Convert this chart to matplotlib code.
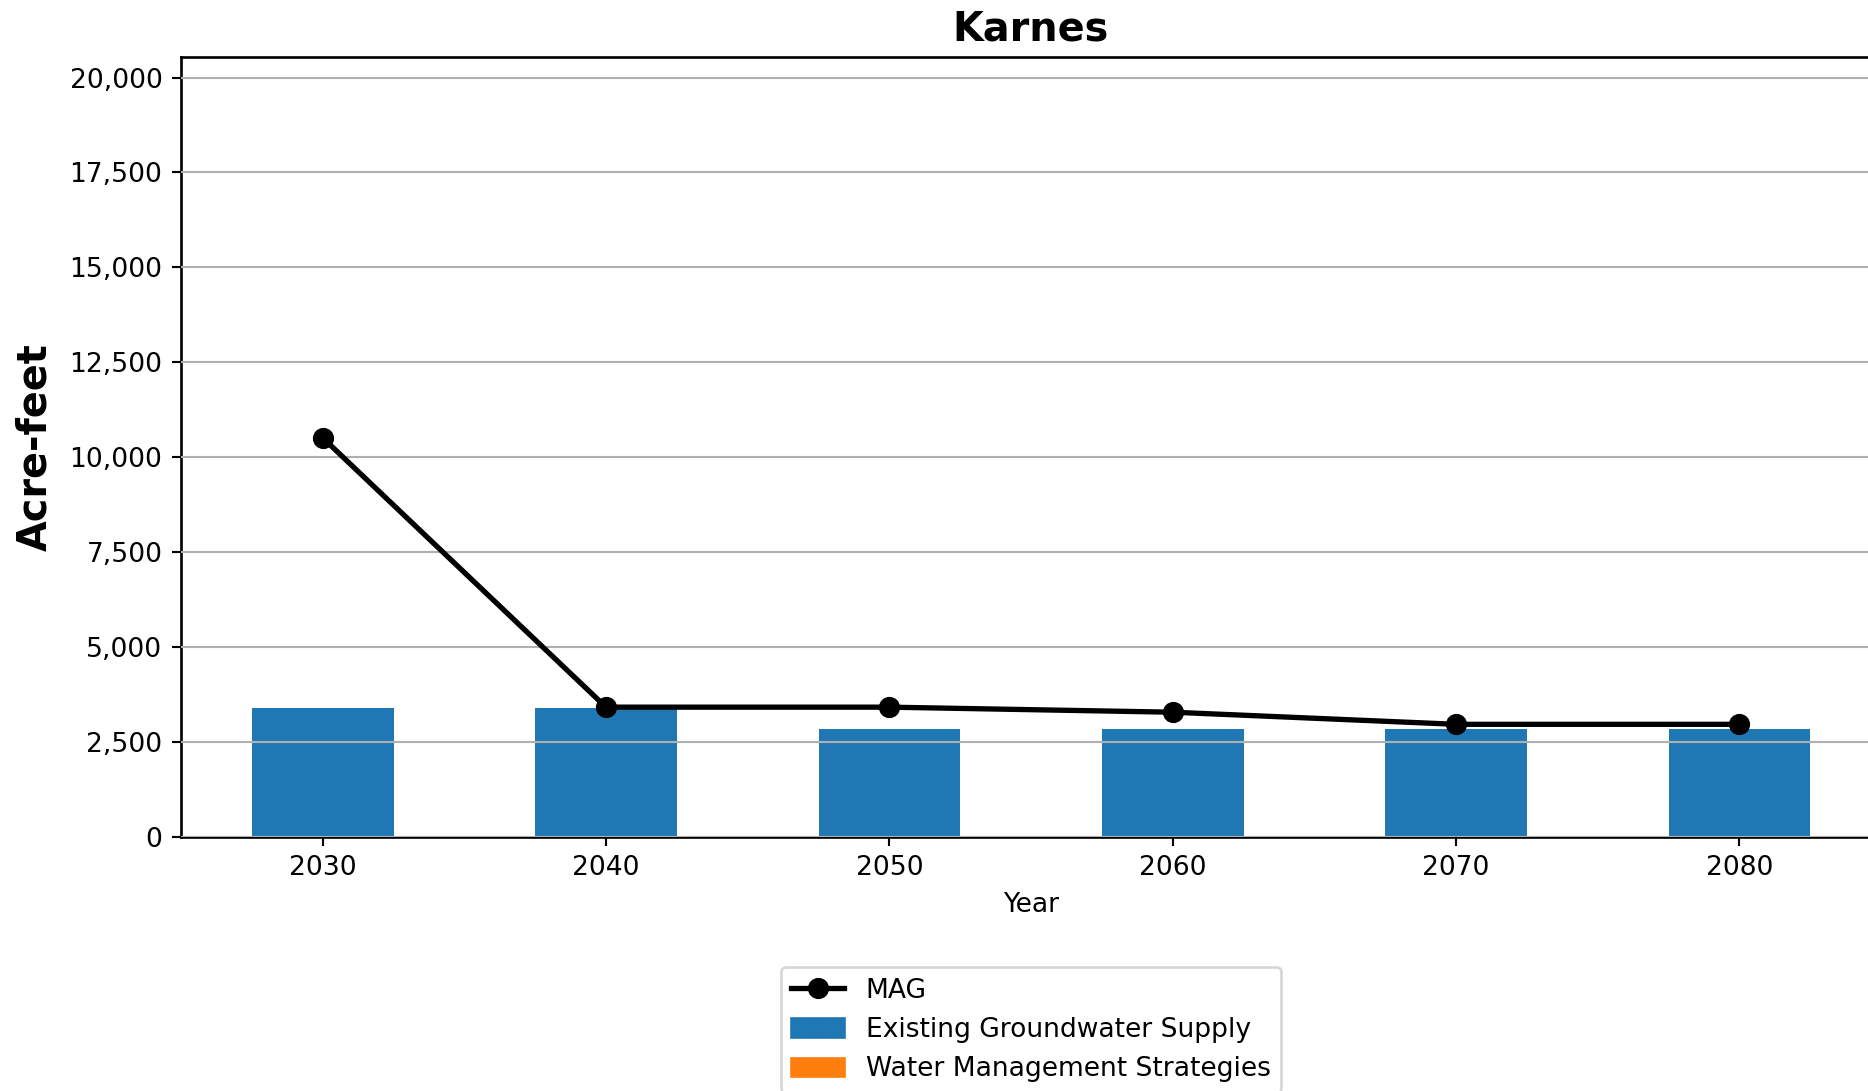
import matplotlib
matplotlib.use("Agg")
import matplotlib.pyplot as plt
from matplotlib.ticker import FuncFormatter
from matplotlib.patches import Patch
from matplotlib.lines import Line2D

years = [2030, 2040, 2050, 2060, 2070, 2080]
existing_supply = [3388, 3388, 2828, 2828, 2828, 2828]
wms_supply = [0, 0, 0, 0, 0, 0]
mag = [10510, 3413, 3413, 3280, 2961, 2961]

DPI = 191
fig = plt.figure(figsize=(1868 / DPI, 1091 / DPI), dpi=DPI)
ax = fig.add_axes([181 / 1868, 1 - 836.7 / 1091, 1700 / 1868, 780 / 1091])

x = list(range(len(years)))
ax.bar(x, existing_supply, width=0.5, color="#1f77b4", label="Existing Groundwater Supply")
ax.bar(x, wms_supply, width=0.5, bottom=existing_supply, color="#ff7f0e",
       label="Water Management Strategies")
ax.plot(x, mag, color="black", marker="o", linewidth=2, markersize=7, label="MAG", zorder=3)

ax.set_xlim(-0.5, 5.5)
ax.set_ylim(0, 20550)
ax.set_yticks([0, 2500, 5000, 7500, 10000, 12500, 15000, 17500, 20000])
ax.yaxis.set_major_formatter(FuncFormatter(lambda v, p: f"{int(v):,}"))
ax.set_xticks(x)
ax.set_xticklabels([str(y) for y in years])
ax.yaxis.grid(True, color="#b0b0b0", linewidth=0.8)
ax.set_axisbelow(False)
for b in ax.patches:
    b.set_zorder(1)
for s in ax.spines.values():
    s.set_linewidth(1.0)

ax.set_title("Karnes", fontsize=15, fontweight="bold", pad=6)
ax.set_ylabel("Acre-feet", fontsize=15, fontweight="bold", labelpad=5.5)
ax.set_xlabel("Year", fontsize=10)
ax.tick_params(labelsize=10)

handles = [
    Line2D([0], [0], color="black", marker="o", linewidth=2, markersize=7),
    Patch(color="#1f77b4"),
    Patch(color="#ff7f0e"),
]
labels = ["MAG", "Existing Groundwater Supply", "Water Management Strategies"]
ax.legend(handles, labels, loc="upper center", bbox_to_anchor=(0.5, -0.15), fontsize=10)

fig.savefig("out.png", dpi=DPI)
